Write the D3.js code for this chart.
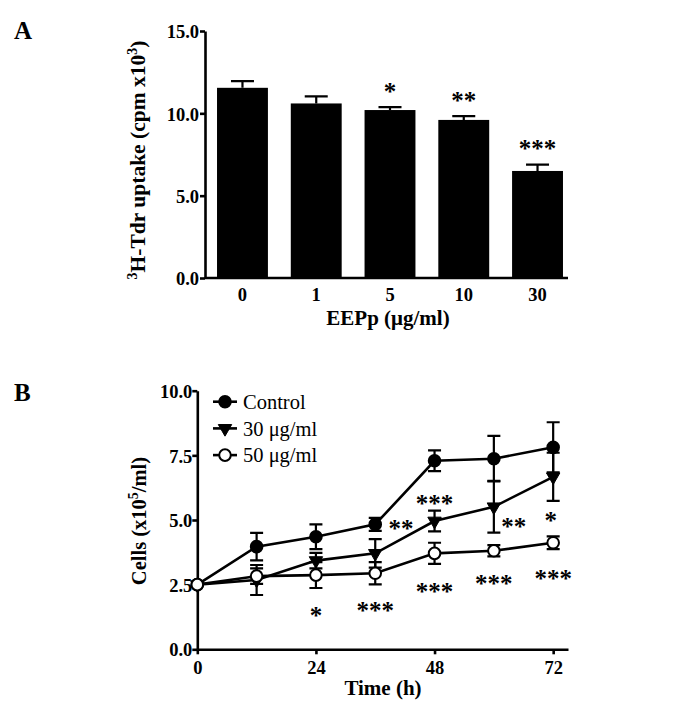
<!DOCTYPE html>
<html><head><meta charset="utf-8">
<script src="https://cdn.jsdelivr.net/npm/d3@7"></script>
<style>
body{margin:0;background:#fff;}
svg{display:block;font-family:"Liberation Serif","Times New Roman",serif;}
</style></head>
<body><svg id="c" width="688" height="711"></svg>
<script>
// ---------- Panel A data ----------
const doseLabels = ["0","1","5","10","30"];
const uptakeMean = [11.55, 10.6, 10.2, 9.6, 6.5];
const uptakeSEM  = [0.4, 0.43, 0.18, 0.23, 0.38];
const uptakeSig  = ["", "", "*", "**", "***"];
const yTicksA = [0, 5, 10, 15];

// ---------- Panel B data ----------
const timePoints = [0, 12, 24, 36, 48, 60, 72];
const seriesNames = ["Control", "30 \u03bcg/ml", "50 \u03bcg/ml"];
const controlMean = [2.5, 3.97, 4.35, 4.83, 7.29, 7.37, 7.81];
const controlSEM  = [0, 0.53, 0.48, 0.25, 0.4, 0.88, 0.97];
const dose30Mean  = [2.5, 2.68, 3.43, 3.71, 4.96, 5.51, 6.67];
const dose30SEM   = [0, 0.58, 0.3, 0.55, 0.4, 1.0, 0.93];
const dose50Mean  = [2.5, 2.83, 2.87, 2.94, 3.71, 3.81, 4.12];
const dose50SEM   = [0, 0.3, 0.5, 0.43, 0.41, 0.22, 0.25];
const xTicksB = [0, 24, 48, 72];
const yTicksB = [0, 2.5, 5, 7.5, 10];
// significance labels: [time, cells value, label]
const sigB = [
  [41.2, 4.81, "**"], [48, 5.80, "***"], [64.0, 4.90, "**"], [71.5, 5.13, "*"],
  [24, 1.45, "*"], [36, 1.65, "***"], [48, 2.40, "***"], [60, 2.71, "***"], [72, 2.91, "***"]
];

const svg = d3.select("#c");
svg.append("rect").attr("width",688).attr("height",711).attr("fill","#fff");
const FONT = "Liberation Serif, Times New Roman, serif";

// ================= Panel A =================
const gA = svg.append("g");
const xA = d3.scaleBand().domain(doseLabels).range([205, 575]).paddingInner(0.31).paddingOuter(0.163);
const yA = d3.scaleLinear().domain([0, 15]).range([278, 31]);

gA.append("text").attr("x",14).attr("y",39).attr("font-size",25).attr("font-weight","bold").text("A");

const barsA = doseLabels.map((d,i)=>({d, v:uptakeMean[i], e:uptakeSEM[i], s:uptakeSig[i]}));
gA.selectAll("rect.bar").data(barsA).join("rect").attr("class","bar")
  .attr("x", d=>xA(d.d)).attr("width", xA.bandwidth())
  .attr("y", d=>yA(d.v)).attr("height", d=>yA(0)-yA(d.v)).attr("fill","#000");
gA.selectAll("path.err").data(barsA).join("path").attr("class","err")
  .attr("d", d=>{const cx = xA(d.d)+xA.bandwidth()/2, cw = 11.5;
    return `M${cx},${yA(d.v)}V${yA(d.v+d.e)}M${cx-cw},${yA(d.v+d.e)}H${cx+cw}`;})
  .attr("stroke","#000").attr("stroke-width",2.2).attr("fill","none");
gA.selectAll("text.sig").data(barsA.filter(d=>d.s)).join("text").attr("class","sig")
  .attr("x", d=>xA(d.d)+xA.bandwidth()/2).attr("y", d=>yA(d.v+d.e)-20).attr("dy","0.5em")
  .attr("text-anchor","middle").attr("font-size",25).attr("font-weight","bold").text(d=>d.s);

const axA = d3.axisLeft(yA).tickValues(yTicksA).tickFormat(d3.format(".1f")).tickSize(5).tickSizeOuter(0);
const gyA = gA.append("g").attr("transform","translate(205,0)").call(axA);
const axAx = d3.axisBottom(xA).tickSize(0).tickSizeOuter(0);
const gxA = gA.append("g").attr("transform","translate(0,278)").call(axAx);
gxA.select(".domain").attr("d","M205,0H568");
[gyA,gxA].forEach(g=>{
  g.selectAll("path,line").attr("stroke","#000").attr("stroke-width",2.6);
  g.selectAll("text").attr("font-family",FONT)
    .attr("font-size",18.5).attr("font-weight","bold").attr("fill","#000");
});
gyA.selectAll("text").attr("x",-6).attr("dy","0.36em");
gxA.selectAll("text").attr("y",23).attr("dy","0");

gA.append("text").attr("x",388).attr("y",325).attr("text-anchor","middle")
  .attr("font-size",21).attr("font-weight","bold").text("EEPp (\u03bcg/ml)");
const tA = gA.append("text").attr("transform","translate(145,160) rotate(-90)").attr("text-anchor","middle")
  .attr("font-size",21.5).attr("font-weight","bold");
tA.append("tspan").attr("font-size",14).attr("dy",-8).text("3");
tA.append("tspan").attr("dy",8).text("H-Tdr uptake (cpm x10");
tA.append("tspan").attr("font-size",14).attr("dy",-8).text("3");
tA.append("tspan").attr("dy",8).text(")");

// ================= Panel B =================
const gB = svg.append("g");
const xB = d3.scaleLinear().domain([0, 75]).range([197.3, 568]);
const yB = d3.scaleLinear().domain([0, 10]).range([649.3, 390.7]);

gB.append("text").attr("x",14).attr("y",401).attr("font-size",25).attr("font-weight","bold").text("B");

const axBy = d3.axisLeft(yB).tickValues(yTicksB).tickFormat(d3.format(".1f")).tickSize(5).tickSizeOuter(0);
const gyB = gB.append("g").attr("transform","translate(197.3,0)").call(axBy);
const axBx = d3.axisBottom(xB).tickValues(xTicksB).tickSize(5).tickSizeOuter(0);
const gxB = gB.append("g").attr("transform","translate(0,649.3)").call(axBx);
[gyB,gxB].forEach(g=>{
  g.selectAll("path,line").attr("stroke","#000").attr("stroke-width",2.6);
  g.selectAll("text").attr("font-family",FONT)
    .attr("font-size",18.5).attr("font-weight","bold").attr("fill","#000");
});
gyB.selectAll("text").attr("x",-5).attr("dy","0.36em");
gxB.selectAll("text").attr("y",25).attr("dy","0");

gB.append("text").attr("x",383).attr("y",695).attr("text-anchor","middle")
  .attr("font-size",21).attr("font-weight","bold").text("Time (h)");
const tB = gB.append("text").attr("transform","translate(146,521) rotate(-90)").attr("text-anchor","middle")
  .attr("font-size",20.5).attr("font-weight","bold");
tB.append("tspan").text("Cells (x10");
tB.append("tspan").attr("font-size",14).attr("dy",-8).text("5");
tB.append("tspan").attr("dy",8).text("/ml)");

const series = [
  {name:seriesNames[0], m:controlMean, e:controlSEM, sym:"circle", fill:"#000"},
  {name:seriesNames[1], m:dose30Mean, e:dose30SEM, sym:"tri", fill:"#000"},
  {name:seriesNames[2], m:dose50Mean, e:dose50SEM, sym:"circle", fill:"#fff"}
];
const line = d3.line().x(d=>xB(d.t)).y(d=>yB(d.v));
series.forEach(s=>{ s.pts = timePoints.map((t,i)=>({t, v:s.m[i], e:s.e[i]})); });
series.forEach(s=>{
  gB.append("g").selectAll("path").data(s.pts.filter(p=>p.e>0)).join("path")
    .attr("d", p=>{const cx=xB(p.t), cw=6.5, y1=yB(p.v+p.e), y2=yB(p.v-p.e);
      return `M${cx},${y1}V${y2}M${cx-cw},${y1}H${cx+cw}M${cx-cw},${y2}H${cx+cw}`;})
    .attr("stroke","#000").attr("stroke-width",2.2).attr("fill","none");
});
series.forEach(s=>{
  gB.append("path").datum(s.pts).attr("d",line).attr("fill","none").attr("stroke","#000").attr("stroke-width",2.6);
});
function drawMarker(g, s, x, y){
  if(s.sym==="circle"){
    g.append("circle").attr("cx",x).attr("cy",y).attr("r",5.8).attr("fill",s.fill)
      .attr("stroke","#000").attr("stroke-width",2);
  } else {
    g.append("path").attr("d", d3.symbol().type(d3.symbolTriangle).size(78)())
      .attr("transform",`translate(${x},${y}) rotate(180)`).attr("fill","#000").attr("stroke","#000").attr("stroke-width",1);
  }
}
series.forEach(s=>{
  const g = gB.append("g");
  s.pts.forEach(p=>drawMarker(g, s, xB(p.t), yB(p.v)));
});
gB.selectAll("text.sig").data(sigB).join("text").attr("class","sig")
  .attr("x", d=>xB(d[0])).attr("y", d=>yB(d[1])).attr("dy","0.5em")
  .attr("text-anchor","middle").attr("font-size",25).attr("font-weight","bold").text(d=>d[2]);

const leg = gB.append("g");
series.forEach((s,i)=>{
  const y = 401.7 + i*26.7;
  leg.append("line").attr("x1",213).attr("x2",237).attr("y1",y).attr("y2",y).attr("stroke","#000").attr("stroke-width",2.6);
  drawMarker(leg, s, 225, y);
  leg.append("text").attr("x",243).attr("y",y).attr("dy","0.35em").attr("font-size",20.5).text(s.name);
});
</script></body></html>
